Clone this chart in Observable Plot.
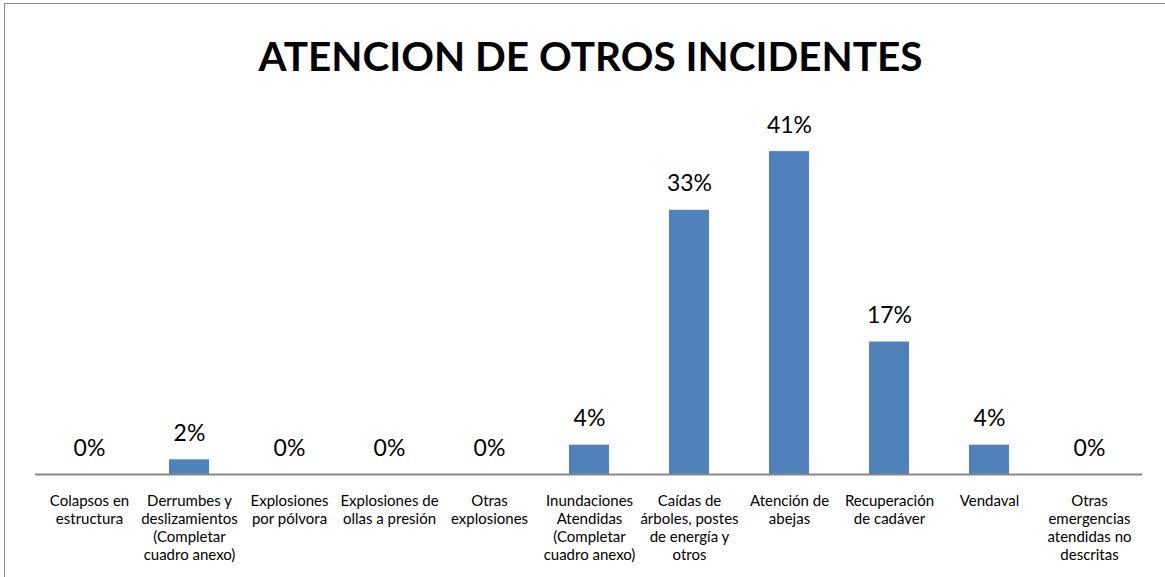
<!DOCTYPE html>
<html>
<head>
<meta charset="utf-8">
<script src="https://cdn.jsdelivr.net/npm/d3@7"></script>
<script src="https://cdn.jsdelivr.net/npm/@observablehq/plot@0.6"></script>
<style>
  html, body { margin: 0; padding: 0; background: #fff; }
  #wrap { position: relative; width: 1165px; height: 577px; overflow: hidden; font-family: Lato, "Open Sans", sans-serif; }
  #frame { position: absolute; left: 4px; top: 3px; width: 1200px; height: 600px; border-left: 1.5px solid #8a8a8a; border-top: 1.5px solid #8a8a8a; box-sizing: border-box; }
  #title { position: absolute; left: 0; width: 1181px; top: 35px; text-align: center; font-size: 40.5px; line-height: 42px; font-weight: 700; color: #000; }
  #chart { position: absolute; left: 0; top: 0; }
</style>
</head>
<body>
<div id="wrap">
  <div id="frame"></div>
  <div id="chart"></div>
  <div id="title">ATENCION DE OTROS INCIDENTES</div>
</div>
<script>
const titleText = "ATENCION DE OTROS INCIDENTES";

const categories = [
  "Colapsos en\nestructura",
  "Derrumbes y\ndeslizamientos\n(Completar\ncuadro anexo)",
  "Explosiones\npor pólvora",
  "Explosiones de\nollas a presión",
  "Otras\nexplosiones",
  "Inundaciones\nAtendidas\n(Completar\ncuadro anexo)",
  "Caídas de\nárboles, postes\nde energía y\notros",
  "Atención de\nabejas",
  "Recuperación\nde cadáver",
  "Vendaval",
  "Otras\nemergencias\natendidas no\ndescritas"
];

const values = [0, 0.0185, 0, 0, 0, 0.037, 0.333, 0.407, 0.167, 0.037, 0];

const data = categories.map((c, i) => ({category: c, value: values[i]}));

document.getElementById("title").textContent = titleText;

const chart = Plot.plot({
  width: 1165,
  height: 577,
  marginTop: 117,
  marginBottom: 103,
  marginLeft: 35,
  marginRight: 23,
  style: {fontFamily: "Lato, 'Open Sans', sans-serif", background: "transparent", color: "#000"},
  x: {domain: categories, paddingInner: 0.6, paddingOuter: 0.3, axis: null},
  y: {domain: [0, 0.45], axis: null},
  marks: [
    Plot.barY(data, {x: "category", y: "value", fill: "#4F81BD"}),
    Plot.ruleY([0], {stroke: "#878787", strokeWidth: 2}),
    Plot.text(data, {
      x: "category", y: "value",
      text: d => d3.format(".0%")(d.value),
      lineAnchor: "bottom", dy: -19,
      fontSize: 23, fill: "#000"
    }),
    Plot.text(data, {
      x: "category",
      text: "category",
      frameAnchor: "bottom",
      lineAnchor: "top",
      dy: 19,
      lineHeight: 1.2,
      fontSize: 15,
      fill: "#000"
    })
  ]
});
document.getElementById("chart").appendChild(chart);
</script>
</body>
</html>
